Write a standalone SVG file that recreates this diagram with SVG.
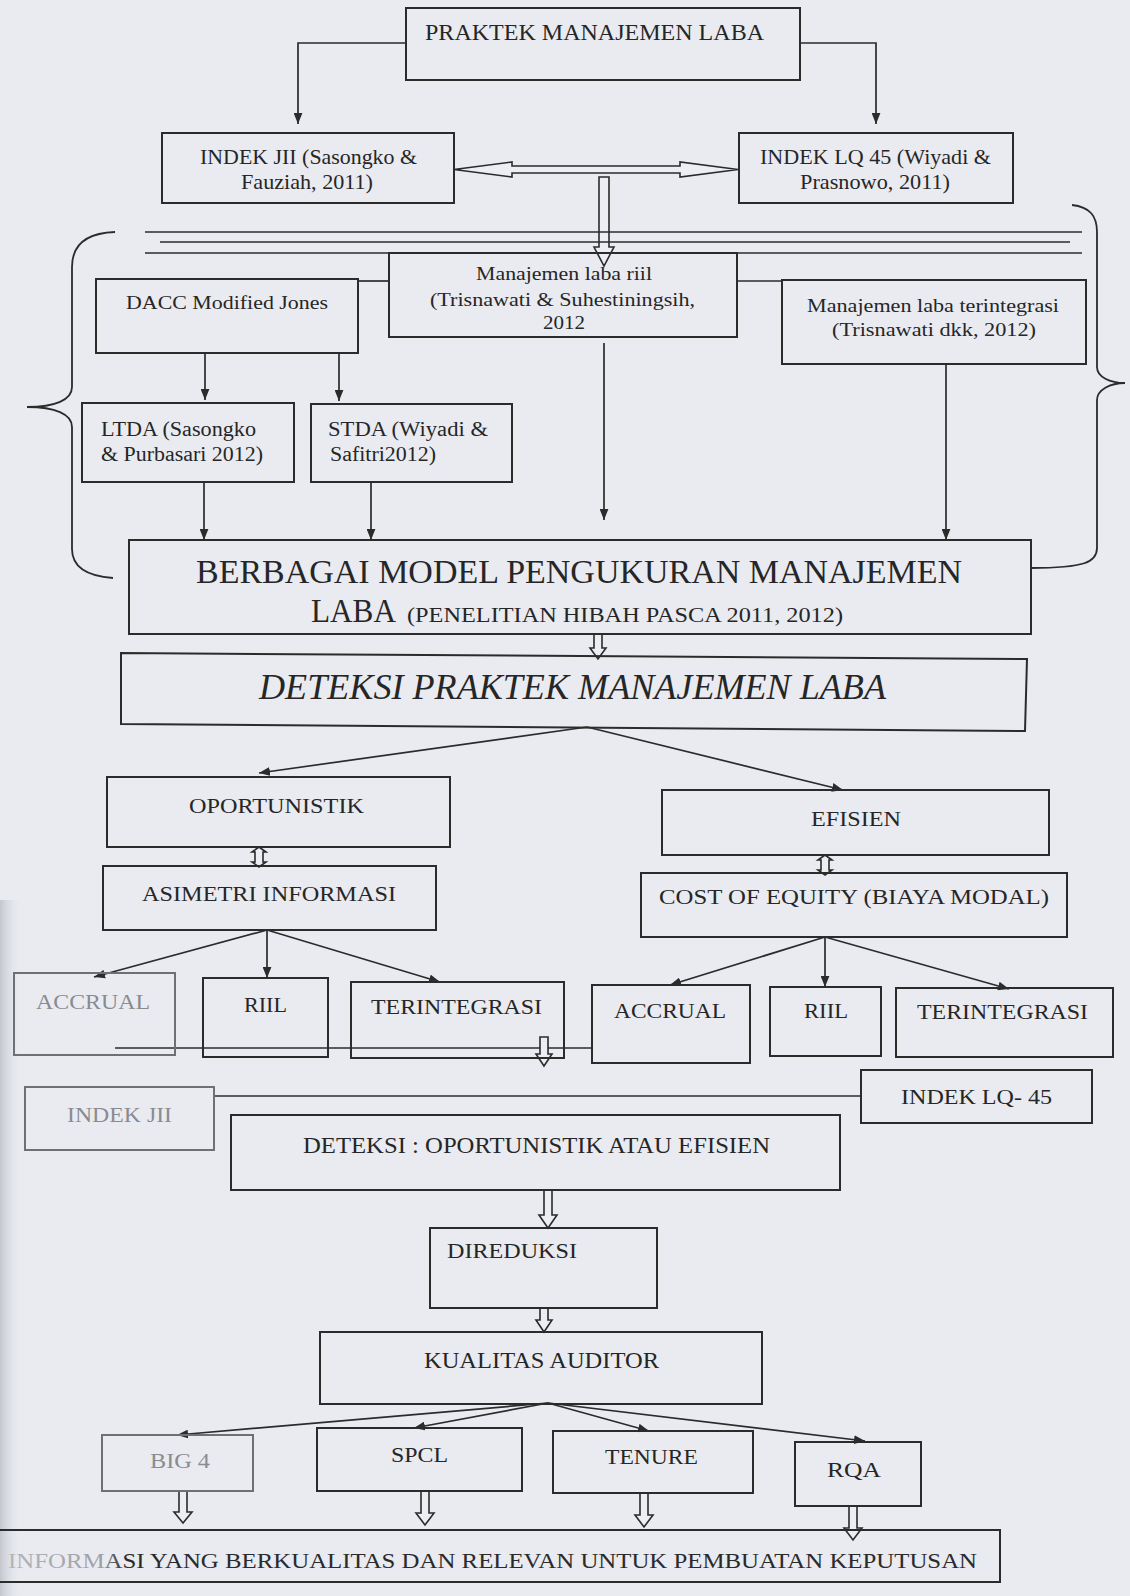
<svg xmlns="http://www.w3.org/2000/svg" width="1130" height="1596" viewBox="0 0 1130 1596">
<defs>
<style>
.bg{fill:#e9ebf1}
.box{fill:none;stroke:#2b2b2b;stroke-width:2}
.fbox{fill:none;stroke:#6f7075;stroke-width:2}
.t{font-family:"Liberation Serif","Times New Roman",serif;fill:#262626}
.ft{font-family:"Liberation Serif","Times New Roman",serif;fill:#8a8b90}
.ln{fill:none;stroke:#2b2b2b;stroke-width:1.7}
.arr{fill:none;stroke:#2b2b2b;stroke-width:1.7;marker-end:url(#ah)}
.hol{fill:#eceef3;stroke:#2b2b2b;stroke-width:1.6;stroke-linejoin:miter}
.br{fill:none;stroke:#2b2b2b;stroke-width:1.8}
</style>
<marker id="ah" viewBox="0 0 10 8" refX="10" refY="4" markerWidth="11" markerHeight="9" markerUnits="userSpaceOnUse" orient="auto">
<path d="M0,0 L10,4 L0,8 z" fill="#2b2b2b"/>
</marker>
<linearGradient id="edge" x1="0" y1="0" x2="1" y2="0">
<stop offset="0" stop-color="#c4c6cd"/>
<stop offset="1" stop-color="#e9ebf1" stop-opacity="0"/>
</linearGradient>
<linearGradient id="fadeText" gradientUnits="userSpaceOnUse" x1="0" y1="0" x2="125" y2="0">
<stop offset="0" stop-color="#b5b6bb"/>
<stop offset="0.8" stop-color="#a0a1a6"/>
<stop offset="1" stop-color="#2a2a2a"/>
</linearGradient>
</defs>
<rect class="bg" x="0" y="0" width="1130" height="1596"/>
<rect x="0" y="900" width="22" height="696" fill="url(#edge)"/>

<g id="connectors">
<path class="arr" d="M406,43 H298 V124"/>
<path class="arr" d="M800,43 H876 V124"/>
<path class="hol" d="M454,169.5 L512,162 L512,166 L680,166 L680,162 L738,169.5 L680,177 L680,173 L512,173 L512,177 Z"/>
<path class="hol" d="M599,177 L599,247 L594,247 L604,266 L614,247 L609,247 L609,177 Z"/>
<line class="ln" x1="145" y1="232" x2="1082" y2="232"/>
<line class="ln" x1="160" y1="242" x2="1070" y2="242"/>
<line class="ln" x1="145" y1="253" x2="1082" y2="253"/>
<line class="ln" x1="358" y1="281" x2="389" y2="281"/>
<line class="ln" x1="737" y1="281" x2="782" y2="281"/>
<path class="br" d="M115,232 C86,233 72,245 72,267 L72,387 C72,400 55,407 27,407 C55,407 72,414 72,427 L72,549 C72,567 86,576 113,578"/>
<path class="br" d="M1072,205 C1090,207 1097,216 1097,232 L1097,367 C1097,377 1110,383 1125,383 C1110,383 1097,390 1097,400 L1097,548 C1097,562 1085,568 1031,568"/>
<path class="arr" d="M205,353 V400"/>
<path class="arr" d="M339,353 V401"/>
<path class="arr" d="M204,482 V540"/>
<path class="arr" d="M371,482 V540"/>
<path class="arr" d="M604,343 V520"/>
<path class="arr" d="M946,364 V540"/>
<path class="hol" d="M594,634 L594,648 L590,648 L598,659 L606,648 L602,648 L602,634 Z"/>
<path class="arr" d="M587,727 L259,773"/>
<path class="arr" d="M587,727 L843,790"/>
<path class="hol" d="M259,847 L266,852 L263,852 L263,862 L266,862 L259,867 L252,862 L255,862 L255,852 L252,852 Z"/>
<path class="hol" d="M825,855 L832,860 L829,860 L829,870 L832,870 L825,875 L818,870 L821,870 L821,860 L818,860 Z"/>
<path class="arr" d="M267,930 L94,977"/>
<path class="arr" d="M267,930 L267,978"/>
<path class="arr" d="M267,930 L440,982"/>
<path class="arr" d="M825,937 L670,985"/>
<path class="arr" d="M825,937 L825,987"/>
<path class="arr" d="M825,937 L1009,989"/>
<line class="ln" x1="115" y1="1048" x2="592" y2="1048"/>
<path class="hol" d="M540,1037 L540,1054 L536,1054 L544,1066 L552,1054 L548,1054 L548,1037 Z"/>
<line class="ln" x1="214" y1="1096" x2="861" y2="1096"/>
<path class="hol" d="M544,1190 L544,1215 L539,1215 L548,1228 L557,1215 L552,1215 L552,1190 Z"/>
<path class="hol" d="M540,1308 L540,1320 L536,1320 L544,1332 L552,1320 L548,1320 L548,1308 Z"/>
<path class="arr" d="M548,1403 L177,1435"/>
<path class="arr" d="M548,1403 L414,1428"/>
<path class="arr" d="M548,1403 L649,1431"/>
<path class="arr" d="M548,1403 L865,1441"/>
<path class="hol" d="M179,1491 L179,1512 L174,1512 L183,1523 L192,1512 L187,1512 L187,1491 Z"/>
<path class="hol" d="M421,1491 L421,1513 L416,1513 L425,1525 L434,1513 L429,1513 L429,1491 Z"/>
<path class="hol" d="M640,1493 L640,1515 L635,1515 L644,1527 L653,1515 L648,1515 L648,1493 Z"/>
<path class="hol" d="M849,1506 L849,1528 L844,1528 L853,1540 L862,1528 L857,1528 L857,1506 Z"/>
</g>

<g id="n-praktek">
<rect class="box" x="406" y="8" width="394" height="72"/>
<text class="t" x="425" y="40" font-size="24" textLength="339" lengthAdjust="spacingAndGlyphs">PRAKTEK MANAJEMEN LABA</text>
</g>
<g id="n-jii">
<rect class="box" x="162" y="133" width="292" height="70"/>
<text class="t" x="200" y="164" font-size="21" textLength="217" lengthAdjust="spacingAndGlyphs">INDEK JII (Sasongko &amp;</text>
<text class="t" x="241" y="189" font-size="21" textLength="132" lengthAdjust="spacingAndGlyphs">Fauziah, 2011)</text>
</g>
<g id="n-lq45">
<rect class="box" x="739" y="133" width="274" height="70"/>
<text class="t" x="760" y="164" font-size="21" textLength="231" lengthAdjust="spacingAndGlyphs">INDEK LQ 45 (Wiyadi &amp;</text>
<text class="t" x="800" y="189" font-size="21" textLength="150" lengthAdjust="spacingAndGlyphs">Prasnowo, 2011)</text>
</g>
<g id="n-riil">
<rect class="box" x="389" y="253" width="348" height="84"/>
<text class="t" x="476" y="280" font-size="19" textLength="176" lengthAdjust="spacingAndGlyphs">Manajemen laba riil</text>
<text class="t" x="430" y="306" font-size="19" textLength="265" lengthAdjust="spacingAndGlyphs">(Trisnawati &amp; Suhestiningsih,</text>
<text class="t" x="543" y="329" font-size="19" textLength="42" lengthAdjust="spacingAndGlyphs">2012</text>
</g>
<g id="n-dacc">
<rect class="box" x="96" y="279" width="262" height="74"/>
<text class="t" x="126" y="309" font-size="19" textLength="202" lengthAdjust="spacingAndGlyphs">DACC Modified Jones</text>
</g>
<g id="n-terintegrasi">
<rect class="box" x="782" y="280" width="304" height="84"/>
<text class="t" x="807" y="312" font-size="19" textLength="252" lengthAdjust="spacingAndGlyphs">Manajemen laba terintegrasi</text>
<text class="t" x="832" y="336" font-size="19" textLength="204" lengthAdjust="spacingAndGlyphs">(Trisnawati dkk, 2012)</text>
</g>
<g id="n-ltda">
<rect class="box" x="82" y="403" width="212" height="79"/>
<text class="t" x="101" y="436" font-size="20" textLength="155" lengthAdjust="spacingAndGlyphs">LTDA (Sasongko</text>
<text class="t" x="101" y="461" font-size="20" textLength="162" lengthAdjust="spacingAndGlyphs">&amp; Purbasari 2012)</text>
</g>
<g id="n-stda">
<rect class="box" x="311" y="404" width="201" height="78"/>
<text class="t" x="328" y="436" font-size="20" textLength="160" lengthAdjust="spacingAndGlyphs">STDA (Wiyadi &amp;</text>
<text class="t" x="330" y="461" font-size="20" textLength="106" lengthAdjust="spacingAndGlyphs">Safitri2012)</text>
</g>
<g id="n-berbagai">
<rect class="box" x="129" y="540" width="902" height="94"/>
<text class="t" x="196" y="583" font-size="33" textLength="766" lengthAdjust="spacingAndGlyphs">BERBAGAI MODEL PENGUKURAN MANAJEMEN</text>
<text class="t" x="311" y="622" font-size="33" textLength="85" lengthAdjust="spacingAndGlyphs">LABA</text>
<text class="t" x="407" y="622" font-size="21" textLength="436" lengthAdjust="spacingAndGlyphs">(PENELITIAN HIBAH PASCA 2011, 2012)</text>
</g>
<g id="n-deteksi-praktek">
<polygon class="box" points="121,653 1027,659 1025,731 121,724"/>
<text class="t" x="259" y="699" font-size="35" font-style="italic" textLength="627" lengthAdjust="spacingAndGlyphs">DETEKSI PRAKTEK MANAJEMEN LABA</text>
</g>
<g id="n-oportunistik">
<rect class="box" x="107" y="777" width="343" height="70"/>
<text class="t" x="189" y="813" font-size="21" textLength="175" lengthAdjust="spacingAndGlyphs">OPORTUNISTIK</text>
</g>
<g id="n-efisien">
<rect class="box" x="662" y="790" width="387" height="65"/>
<text class="t" x="811" y="826" font-size="21" textLength="90" lengthAdjust="spacingAndGlyphs">EFISIEN</text>
</g>
<g id="n-asimetri">
<rect class="box" x="103" y="866" width="333" height="64"/>
<text class="t" x="142" y="901" font-size="21" textLength="254" lengthAdjust="spacingAndGlyphs">ASIMETRI INFORMASI</text>
</g>
<g id="n-cost">
<rect class="box" x="641" y="873" width="426" height="64"/>
<text class="t" x="659" y="904" font-size="21" textLength="390" lengthAdjust="spacingAndGlyphs">COST OF EQUITY (BIAYA MODAL)</text>
</g>
<g id="n-accrual-l">
<rect class="fbox" x="14" y="973" width="161" height="82"/>
<text class="ft" x="36" y="1009" font-size="22" textLength="114" lengthAdjust="spacingAndGlyphs">ACCRUAL</text>
</g>
<g id="n-riil-l">
<rect class="box" x="203" y="978" width="125" height="79"/>
<text class="t" x="244" y="1012" font-size="22" textLength="43" lengthAdjust="spacingAndGlyphs">RIIL</text>
</g>
<g id="n-terintegrasi-l">
<rect class="box" x="351" y="982" width="213" height="76"/>
<text class="t" x="371" y="1014" font-size="22" textLength="171" lengthAdjust="spacingAndGlyphs">TERINTEGRASI</text>
</g>
<g id="n-accrual-r">
<rect class="box" x="592" y="985" width="158" height="78"/>
<text class="t" x="614" y="1018" font-size="22" textLength="112" lengthAdjust="spacingAndGlyphs">ACCRUAL</text>
</g>
<g id="n-riil-r">
<rect class="box" x="770" y="987" width="111" height="69"/>
<text class="t" x="804" y="1018" font-size="22" textLength="44" lengthAdjust="spacingAndGlyphs">RIIL</text>
</g>
<g id="n-terintegrasi-r">
<rect class="box" x="896" y="988" width="217" height="69"/>
<text class="t" x="917" y="1019" font-size="22" textLength="171" lengthAdjust="spacingAndGlyphs">TERINTEGRASI</text>
</g>
<g id="n-lq45-b">
<rect class="box" x="861" y="1070" width="231" height="53"/>
<text class="t" x="901" y="1104" font-size="22" textLength="151" lengthAdjust="spacingAndGlyphs">INDEK LQ- 45</text>
</g>
<g id="n-jii-b">
<rect class="fbox" x="25" y="1087" width="189" height="63"/>
<text class="ft" x="67" y="1122" font-size="22" textLength="105" lengthAdjust="spacingAndGlyphs">INDEK JII</text>
</g>
<g id="n-deteksi-oe">
<rect class="box" x="231" y="1115" width="609" height="75"/>
<text class="t" x="303" y="1153" font-size="23" textLength="467" lengthAdjust="spacingAndGlyphs">DETEKSI : OPORTUNISTIK ATAU EFISIEN</text>
</g>
<g id="n-direduksi">
<rect class="box" x="430" y="1228" width="227" height="80"/>
<text class="t" x="447" y="1258" font-size="22" textLength="130" lengthAdjust="spacingAndGlyphs">DIREDUKSI</text>
</g>
<g id="n-kualitas">
<rect class="box" x="320" y="1332" width="442" height="72"/>
<text class="t" x="424" y="1368" font-size="23" textLength="235" lengthAdjust="spacingAndGlyphs">KUALITAS AUDITOR</text>
</g>
<g id="n-big4">
<rect class="fbox" x="102" y="1435" width="151" height="56"/>
<text class="ft" x="150" y="1468" font-size="22" textLength="60" lengthAdjust="spacingAndGlyphs">BIG 4</text>
</g>
<g id="n-spcl">
<rect class="box" x="317" y="1428" width="205" height="63"/>
<text class="t" x="391" y="1462" font-size="22" textLength="57" lengthAdjust="spacingAndGlyphs">SPCL</text>
</g>
<g id="n-tenure">
<rect class="box" x="553" y="1431" width="200" height="62"/>
<text class="t" x="605" y="1464" font-size="22" textLength="93" lengthAdjust="spacingAndGlyphs">TENURE</text>
</g>
<g id="n-rqa">
<rect class="box" x="795" y="1442" width="126" height="64"/>
<text class="t" x="827" y="1477" font-size="22" textLength="54" lengthAdjust="spacingAndGlyphs">RQA</text>
</g>
<g id="n-informasi">
<rect class="box" x="-5" y="1530" width="1005" height="52"/>
<text x="8" y="1568" font-size="22" font-family="Liberation Serif, serif" fill="url(#fadeText)" textLength="969" lengthAdjust="spacingAndGlyphs">INFORMASI YANG BERKUALITAS DAN RELEVAN UNTUK PEMBUATAN KEPUTUSAN</text>
</g>
</svg>
